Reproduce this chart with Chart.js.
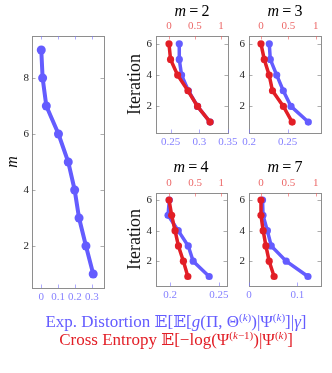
<!DOCTYPE html>
<html>
<head>
<meta charset="utf-8">
<script src="https://cdn.jsdelivr.net/npm/chart.js@4.4.1/dist/chart.umd.min.js"></script>
<style>
  body { margin: 0; background: #fff; }
  #wrap { position: relative; width: 332px; height: 373px; overflow: hidden; }
  canvas { position: absolute; left: 0; top: 0; }
  .ttl { position: absolute; font: 16px "Liberation Serif", serif; transform: translateX(-50%); white-space: nowrap; line-height: 18px; }
  .legend { position: absolute; left: 0; width: 352px; text-align: center; font: 17px "Liberation Serif", "DejaVu Serif", serif; white-space: nowrap; line-height: 18px; }
  .legend sup { font-size: 11px; vertical-align: 6px; line-height: 0; }
</style>
</head>
<body>
<div id="wrap">
  <canvas id="cLeft" width="332" height="373"></canvas>
  <canvas id="cM2" width="332" height="373"></canvas>
  <canvas id="cM3" width="332" height="373"></canvas>
  <canvas id="cM4" width="332" height="373"></canvas>
  <canvas id="cM7" width="332" height="373"></canvas>
  <div class="ttl" style="left:192px;top:2px"><i>m</i>&thinsp;=&thinsp;2</div>
  <div class="ttl" style="left:285px;top:2px"><i>m</i>&thinsp;=&thinsp;3</div>
  <div class="ttl" style="left:191px;top:158px"><i>m</i>&thinsp;=&thinsp;4</div>
  <div class="ttl" style="left:285px;top:158px"><i>m</i>&thinsp;=&thinsp;7</div>
  <div class="legend" style="top:313px;color:rgb(100,92,255)">Exp. Distortion 𝔼[𝔼[<i>g</i>(Π, Θ<sup>(<i>k</i>)</sup>)|Ψ<sup>(<i>k</i>)</sup>]|<i>γ</i>]</div>
  <div class="legend" style="top:331px;color:rgb(226,30,38)">Cross Entropy 𝔼[−log(Ψ<sup>(<i>k</i>−1)</sup>)|Ψ<sup>(<i>k</i>)</sup>]</div>
</div>
<script>
// number of tables m, and expected distortion after convergence
const mValues = [1, 2, 3, 4, 5, 6, 7, 8, 9];
const distortionByM = [0.308, 0.265, 0.224, 0.198, 0.16, 0.102, 0.03, 0.008, 0.0];

// per-iteration values, iteration 1..6
const iterations = [1, 2, 3, 4, 5, 6];
const distM2 = [0.319, 0.297, 0.281, 0.269, 0.265, 0.265];
const ceM2 = [0.79, 0.55, 0.365, 0.167, 0.03, 0.0];
const distM3 = [0.2766, 0.2543, 0.2443, 0.2358, 0.2275, 0.2262];
const ceM3 = [0.57, 0.41, 0.21, 0.15, 0.06, 0.0];
const distM4 = [0.24, 0.2237, 0.2186, 0.2084, 0.198, 0.1993];
const ceM4 = [0.36, 0.275, 0.18, 0.115, 0.05, 0.0];
const distM7 = [0.122, 0.077, 0.046, 0.038, 0.029, 0.028];
const ceM7 = [0.24, 0.15, 0.09, 0.04, 0.0, 0.0];

// tick labels
const leftXTicks = [0, 0.1, 0.2, 0.3];
const leftYTicks = [2, 4, 6, 8];
const iterTicks = [2, 4, 6];
const ceTicks = [0, 0.5, 1];
const distTicksM2 = [0.25, 0.3, 0.35];
const distTicksM3 = [0.2, 0.25];
const distTicksM4 = [0.2, 0.25];
const distTicksM7 = [0, 0.1];

const SERIF = '"Liberation Serif", serif';
const BLUE = 'rgb(100,92,255)';
const RED = 'rgb(226,30,38)';
const BLUE_TXT = 'rgb(135,130,255)';
const RED_TXT = 'rgb(236,105,105)';
const BLUE_TICK = 'rgba(120,115,255,0.6)';
const RED_TICK = 'rgba(236,90,90,0.6)';
const GREY_TICK = 'rgba(120,120,120,0.6)';
const FRAME = '#8e8e8e';

// short tick marks drawn inward from the frame, pgfplots style
const innerTicks = {
  id: 'innerTicks',
  beforeDatasetsDraw(chart) {
    const { ctx, chartArea: a } = chart;
    ctx.save();
    ctx.lineWidth = 1;
    for (const s of Object.values(chart.scales)) {
      ctx.strokeStyle = s.options.grid.color;
      for (const t of s.ticks) {
        const p = Math.round(s.getPixelForValue(t.value)) + 0.5;
        ctx.beginPath();
        if (s.position === 'bottom') { ctx.moveTo(p, a.bottom); ctx.lineTo(p, a.bottom - 3.5); }
        if (s.position === 'top') { ctx.moveTo(p, a.top); ctx.lineTo(p, a.top + 3.5); }
        if (s.position === 'left') { ctx.moveTo(a.left, p); ctx.lineTo(a.left + 3.5, p); }
        if (s.position === 'right') { ctx.moveTo(a.right, p); ctx.lineTo(a.right - 3.5, p); }
        ctx.stroke();
      }
    }
    ctx.restore();
  }
};

function axis(position, min, max, ticks, o) {
  const vertical = position === 'left' || position === 'right';
  return {
    type: 'linear', position, min, max,
    afterBuildTicks: s => { s.ticks = ticks.map(v => ({ value: v })); },
    afterFit: s => { if (vertical) s.width = o.size; else s.height = o.size; },
    grid: { drawOnChartArea: false, drawTicks: false, color: o.tickColor },
    border: { display: true, color: FRAME, width: 1 },
    ticks: {
      display: !!o.labels, color: o.labelColor || '#222', padding: o.pad ?? 3,
      font: { family: SERIF, size: 11 }, maxRotation: 0, autoSkip: false,
      callback: v => String(v)
    },
    title: o.title
      ? { display: true, text: o.title, color: '#111', padding: 0, font: { family: SERIF, size: o.titleSize || 16, style: o.titleStyle || 'normal' } }
      : { display: false }
  };
}

function series(xs, ys, color, width, radius, order, xAxisID) {
  return {
    data: ys.map((y, i) => ({ x: xs[i], y })),
    showLine: true, borderColor: color, backgroundColor: color,
    borderWidth: width, pointRadius: radius, pointHoverRadius: radius,
    pointBorderWidth: 0, order, xAxisID, yAxisID: 'y', clip: false
  };
}

function makeChart(id, frame, sizes, datasets, scales) {
  new Chart(document.getElementById(id), {
    type: 'scatter',
    data: { datasets },
    options: {
      responsive: false, animation: false,
      layout: {
        autoPadding: false,
        padding: {
          left: frame.l - sizes.l, top: frame.t - sizes.t,
          right: 332 - frame.r - sizes.r, bottom: 373 - frame.b - sizes.b
        }
      },
      plugins: { legend: { display: false }, tooltip: { enabled: false } },
      scales
    },
    plugins: [innerTicks]
  });
}

// left panel: distortion against m
makeChart('cLeft', { l: 32, t: 36, r: 104, b: 288 }, { l: 29, t: 10, r: 0, b: 20 },
  [series(distortionByM, mValues, BLUE, 4, 4.5, 0, 'x')],
  {
    x: axis('bottom', -0.055, 0.372, leftXTicks, { size: 20, labels: true, labelColor: BLUE_TXT, tickColor: BLUE_TICK }),
    xt: axis('top', -0.055, 0.372, leftXTicks, { size: 10, tickColor: BLUE_TICK }),
    y: axis('left', 0.5, 9.5, leftYTicks, { size: 29, labels: true, tickColor: GREY_TICK, title: 'm', titleStyle: 'italic' }),
    yr: axis('right', 0.5, 9.5, leftYTicks, { size: 0, tickColor: GREY_TICK })
  });

function iterPanel(id, frame, dist, ce, distRange, distTicks, ceRange, yRange, leftSize, yTitle) {
  makeChart(id, frame, { l: leftSize, t: 16, r: 0, b: 18 },
    [series(dist, iterations, BLUE, 3.5, 3.6, 1, 'xb'),
     series(ce, iterations, RED, 3.5, 3.6, 0, 'xt')],
    {
      xb: axis('bottom', distRange[0], distRange[1], distTicks, { size: 18, labels: true, labelColor: BLUE_TXT, tickColor: BLUE_TICK }),
      xt: axis('top', ceRange[0], ceRange[1], ceTicks, { size: 16, labels: true, labelColor: RED_TXT, tickColor: RED_TICK }),
      y: axis('left', yRange[0], yRange[1], iterTicks, { size: leftSize, labels: true, tickColor: GREY_TICK, pad: 4, title: yTitle, titleSize: 18 }),
      yr: axis('right', yRange[0], yRange[1], iterTicks, { size: 0, tickColor: GREY_TICK })
    });
}

iterPanel('cM2', { l: 156, t: 36, r: 228, b: 133 }, distM2, ceM2, [0.2243, 0.3502], distTicksM2, [-0.25, 1.135], [0.3, 6.5], 32, 'Iteration');
iterPanel('cM3', { l: 249, t: 36, r: 321, b: 133 }, distM3, ceM3, [0.2, 0.293], distTicksM3, [-0.219, 1.097], [0.3, 6.5], 14, null);
iterPanel('cM4', { l: 156, t: 193, r: 227, b: 286 }, distM4, ceM4, [0.1857, 0.2582], distTicksM4, [-0.25, 1.11], [0.38, 6.46], 32, 'Iteration');
iterPanel('cM7', { l: 249, t: 193, r: 321, b: 286 }, distM7, ceM7, [0, 0.149], distTicksM7, [-0.219, 1.097], [0.38, 6.46], 14, null);
</script>
</body>
</html>
